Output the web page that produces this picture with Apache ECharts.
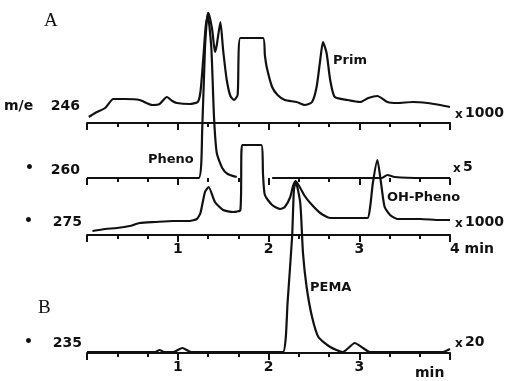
<!DOCTYPE html>
<html>
<head>
<meta charset="utf-8">
<script src="https://cdn.jsdelivr.net/npm/echarts@6/dist/echarts.min.js"></script>
<style>
  html, body { margin: 0; padding: 0; background: #fff; }
  #chart { width: 510px; height: 381px; }
</style>
</head>
<body>
<div id="chart"></div>
<script>
// retention time (min) and relative intensity for each ion trace
const t246 = [0.02, 0.09, 0.20, 0.29, 0.42, 0.58, 0.72, 0.80, 0.88, 0.94, 0.99, 1.13, 1.22, 1.25, 1.28, 1.31, 1.34, 1.38, 1.41, 1.43, 1.47, 1.50, 1.54, 1.58, 1.62, 1.66, 1.69, 1.94, 1.96, 1.98, 2.04, 2.10, 2.18, 2.31, 2.40, 2.48, 2.53, 2.57, 2.60, 2.64, 2.68, 2.73, 2.87, 3.01, 3.10, 3.20, 3.31, 3.42, 3.59, 3.75, 3.89, 4.00];
const i246 = [6, 10, 15, 24, 24, 23, 18, 19, 26, 22, 20, 19, 21, 31, 63, 98, 110, 93, 71, 78, 101, 73, 43, 27, 23, 28, 85, 85, 68, 56, 36, 28, 23, 21, 18, 21, 36, 63, 81, 70, 43, 26, 23, 21, 25, 27, 21, 20, 21, 20, 18, 16];

const t260 = [0, 0.5, 1.0, 1.23, 1.27, 1.30, 1.33, 1.37, 1.40, 1.43, 1.49, 1.55, 1.65, 1.85, 2.04, 2.5, 3.0, 3.25, 3.31, 3.39, 3.7, 4.0];
const i260 = [0, 0, 0, 0, 50, 130, 165, 130, 60, 25, 10, 4, 1, '-', 0, 0, 0, 0, 3, 1, 0, 0];

const t275 = [0.06, 0.20, 0.33, 0.47, 0.58, 0.75, 0.95, 1.13, 1.21, 1.25, 1.30, 1.34, 1.41, 1.50, 1.61, 1.69, 1.71, 1.92, 1.94, 1.96, 2.04, 2.13, 2.18, 2.24, 2.27, 2.30, 2.35, 2.40, 2.46, 2.57, 2.68, 2.90, 3.09, 3.12, 3.15, 3.20, 3.24, 3.28, 3.34, 3.42, 3.67, 3.89, 4.00];
const i275 = [4, 6, 7, 9, 12, 13, 14, 14, 16, 22, 43, 48, 33, 25, 23, 25, 90, 90, 60, 40, 30, 26, 28, 38, 49, 54, 47, 39, 32, 22, 17, 17, 17, 28, 52, 75, 52, 28, 20, 16, 16, 15, 15];

const t235 = [0, 0.5, 0.75, 0.80, 0.85, 0.95, 1.05, 1.15, 1.5, 2.0, 2.16, 2.19, 2.21, 2.26, 2.28, 2.30, 2.35, 2.38, 2.42, 2.48, 2.55, 2.68, 2.82, 2.88, 2.95, 3.04, 3.12, 3.5, 3.92, 4.0];
const i235 = [1, 1, 1, 3, 1, 1, 5, 1, 1, 1, 1, 15, 50, 116, 163, 171, 150, 100, 66, 36, 16, 6, 1, 5, 10, 5, 1, 1, 1, 4];

const ink = '#111';

function pairs(t, v) {
    return t.map((x, k) => [x, v[k]]);
}

// one x axis per trace, 1/3 min minor ticks
function makeX(gridIndex, labels, showLine) {
    return {
        type: 'value', gridIndex: gridIndex, min: 0, max: 4, interval: 1,
        axisLine: { show: showLine, lineStyle: { color: ink, width: 2 } },
        axisTick: { show: true, length: 7, lineStyle: { color: ink, width: 2 } },
        minorTick: { show: true, splitNumber: 3, length: 4, lineStyle: { color: ink, width: 2 } },
        splitLine: { show: false },
        axisLabel: labels ? Object.assign({
            show: true, color: ink, margin: 7,
            fontFamily: 'DejaVu Sans', fontWeight: 'bold', fontSize: 14
        }, labels) : { show: false }
    };
}

function makeY(gridIndex) {
    return { type: 'value', gridIndex: gridIndex, min: 0, max: 100, show: false };
}

function trace(idx, t, v) {
    return {
        type: 'line', xAxisIndex: idx, yAxisIndex: idx, data: pairs(t, v),
        showSymbol: false, symbol: 'none', clip: false, connectNulls: false,
        smooth: 0.2,
        lineStyle: { color: ink, width: 2.2 }, animation: false
    };
}

function txt(text, x, y, size, opts) {
    return {
        type: 'text', x: x, y: y, silent: true,
        style: Object.assign({
            text: text, fill: ink, fontFamily: 'DejaVu Sans', fontWeight: 'bold',
            fontSize: size, textAlign: 'left', textVerticalAlign: 'middle'
        }, opts || {})
    };
}

const chart = echarts.init(document.getElementById('chart'), null, { renderer: 'canvas' });

chart.setOption({
    backgroundColor: '#fff',
    animation: false,
    grid: [
        { left: 87, width: 363, top: 23, height: 100 },
        { left: 87, width: 363, top: 78, height: 100 },
        { left: 87, width: 363, top: 135, height: 100 },
        { left: 87, width: 363, top: 253, height: 100 }
    ],
    xAxis: [
        makeX(0, null, true),
        makeX(1, null, false),
        makeX(2, {
            alignMaxLabel: 'left', showMaxLabel: true,
            formatter: v => v === 0 ? '' : (v === 4 ? '4 min' : String(v))
        }, true),
        makeX(3, {
            formatter: v => (v === 0 || v === 4) ? '' : String(v)
        }, true)
    ],
    yAxis: [makeY(0), makeY(1), makeY(2), makeY(3)],
    series: [
        trace(0, t246, i246),
        trace(1, t260, i260),
        trace(2, t275, i275),
        trace(3, t235, i235)
    ],
    graphic: [
        txt('A', 44, 21, 19, { fontFamily: 'Liberation Serif', fontWeight: 'normal' }),
        txt('B', 38, 308, 19, { fontFamily: 'Liberation Serif', fontWeight: 'normal' }),
        txt('m/e', 4, 106, 14),
        txt('246', 80, 106, 14, { textAlign: 'right' }),
        txt('•', 25, 168, 14),
        txt('260', 80, 170, 14, { textAlign: 'right' }),
        txt('•', 24, 221, 14),
        txt('275', 82, 222, 14, { textAlign: 'right' }),
        txt('•', 24, 342, 14),
        txt('235', 82, 343, 14, { textAlign: 'right' }),
        txt('x', 455, 115, 12),
        txt('1000', 465, 113, 14),
        txt('x', 453, 169, 12),
        txt('5', 463, 167, 14),
        txt('x', 455, 224, 12),
        txt('1000', 465, 222, 14),
        txt('x', 455, 344, 12),
        txt('20', 465, 342, 14),
        txt('Prim', 333, 61, 13),
        txt('Pheno', 148, 160, 13),
        txt('OH-Pheno', 387, 198, 13),
        txt('PEMA', 310, 288, 13),
        txt('min', 415, 373, 14)
    ]
});
</script>
</body>
</html>
